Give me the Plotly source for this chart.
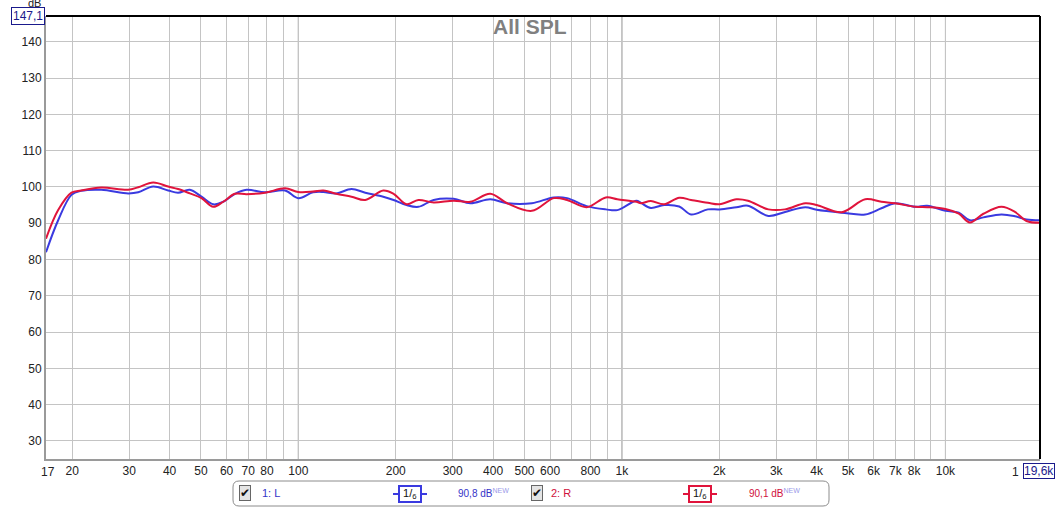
import numpy as np
import plotly.graph_objects as go

# ---------------- data ----------------
freq = [16.6, 18.1, 19.9, 21.3, 24.6, 29.8, 32, 35.6, 39.6, 42.5, 46.2, 50.2, 54.6, 58.6,
        63.7, 69.2, 78.9, 91, 100, 111, 119.5, 131, 146, 161, 183, 197, 216, 235, 262,
        302, 340, 392, 442, 527, 616, 677, 778, 892, 968, 1109, 1145, 1229, 1351, 1504,
        1636, 1844, 2004, 2259, 2453, 2836, 3195, 3690, 4000, 4780, 5650, 6340, 6980,
        8070, 8780, 10000, 11000, 11900, 13100, 14900, 16400, 17800, 19600]
spl_L = [82.0, 90.8, 97.8, 98.9, 99.2, 98.2, 98.5, 100.1, 99.0, 98.4, 99.2, 97.3, 95.2, 95.9,
         98.1, 99.2, 98.5, 99.0, 96.9, 98.5, 98.6, 98.2, 99.4, 98.4, 97.3, 96.4, 95.0, 94.5, 96.4,
         96.7, 95.5, 96.6, 95.5, 95.5, 97.1, 96.9, 94.7, 93.8, 93.6, 96.2, 95.6, 94.2, 95.0, 94.6,
         92.4, 93.8, 93.8, 94.4, 94.8, 92.0, 93.1, 94.4, 93.7, 92.9, 92.4, 94.1, 95.5,
         94.5, 94.8, 93.4, 92.9, 90.8, 91.6, 92.4, 91.9, 91.0, 90.8]
spl_R = [85.7, 93.6, 98.4, 99.0, 99.8, 99.2, 99.9, 101.2, 100.1, 99.4, 98.2, 96.9, 94.5, 95.9,
         98.1, 98.0, 98.4, 99.6, 98.6, 98.7, 99.0, 98.1, 97.3, 96.4, 99.0, 98.1, 95.2, 96.4, 95.7,
         96.2, 95.9, 98.1, 95.5, 93.4, 96.9, 96.4, 94.4, 97.1, 96.6, 95.9, 95.5, 96.1, 95.2, 97.0,
         96.4, 95.6, 95.2, 96.6, 96.2, 93.8, 93.8, 95.5, 95.0, 93.0, 96.6, 95.9, 95.5,
         94.5, 94.4, 93.9, 92.6, 90.2, 92.6, 94.5, 93.1, 90.6, 90.1]

y_ticks = [30, 40, 50, 60, 70, 80, 90, 100, 110, 120, 130, 140]
x_tickvals = [20, 30, 40, 50, 60, 70, 80, 90, 100, 200, 300, 400, 500, 600, 700, 800, 900,
              1000, 2000, 3000, 4000, 5000, 6000, 7000, 8000, 9000, 10000]
x_ticktext = ["20", "30", "40", "50", "60", "70", "80", "", "100", "200", "300", "400", "500",
              "600", "", "800", "", "1k", "2k", "3k", "4k", "5k", "6k", "7k", "8k", "", "10k"]
decades = [100, 1000, 10000]

BLUE = "#3a3ae0"
RED = "#e0143c"
BLUE_T = "#3434c8"
RED_T = "#d0103c"

# ---------------- layout geometry (window pixels) ----------------
W, H = 1063, 508
L, R, T, B = 46, 1040, 16, 459


def px(x):
    return (x - L) / (R - L)


def py(y):
    return (B - y) / (B - T)


fig = go.Figure()
fig.add_trace(go.Scatter(x=freq, y=spl_L, mode="lines", line=dict(color=BLUE, width=2, shape="spline"),
                         name="1: L", showlegend=False, hoverinfo="skip"))
fig.add_trace(go.Scatter(x=freq, y=spl_R, mode="lines", line=dict(color=RED, width=2, shape="spline"),
                         name="2: R", showlegend=False, hoverinfo="skip"))

FONT = "Liberation Sans, Arial, sans-serif"

fig.update_layout(
    width=W, height=H,
    margin=dict(l=L, r=W - R, t=T, b=H - B, pad=0),
    paper_bgcolor="white", plot_bgcolor="white",
    font=dict(family=FONT, size=12, color="#222222"),
    xaxis=dict(type="log", range=[np.log10(16.6), np.log10(19600)],
               tickvals=x_tickvals, ticktext=x_ticktext, showgrid=True, gridcolor="#c4c4c4",
               gridwidth=1, showline=True, linecolor="#9a9a9a", linewidth=2, ticks="",
               zeroline=False, tickfont=dict(size=12, color="#222222")),
    yaxis=dict(range=[25, 147.1], tickvals=y_ticks, showgrid=True, gridcolor="#c4c4c4",
               gridwidth=1, showline=True, linecolor="#9a9a9a", linewidth=2, ticks="",
               zeroline=False, tickfont=dict(size=12, color="#222222")),
)

shapes = []
for d in decades:
    shapes.append(dict(type="line", xref="x", yref="paper", x0=d, x1=d, y0=0, y1=1,
                       line=dict(color="#7a7a7a", width=1), layer="below"))
# top and right black frame
shapes.append(dict(type="line", xref="paper", yref="paper", x0=0, x1=1, y0=1, y1=1,
                   line=dict(color="black", width=2)))
shapes.append(dict(type="line", xref="paper", yref="paper", x0=1, x1=1, y0=0, y1=1,
                   line=dict(color="black", width=2)))

# legend rounded box
x0, x1, yt, yb = px(233), px(829), py(481), py(506)
rx, ry = 6 / (R - L), 6 / (B - T)
path = (f"M {x0+rx},{yt} L {x1-rx},{yt} Q {x1},{yt} {x1},{yt-ry} L {x1},{yb+ry} "
        f"Q {x1},{yb} {x1-rx},{yb} L {x0+rx},{yb} Q {x0},{yb} {x0},{yb+ry} "
        f"L {x0},{yt-ry} Q {x0},{yt} {x0+rx},{yt} Z")
shapes.append(dict(type="path", xref="paper", yref="paper", path=path,
                   line=dict(color="#8c8c8c", width=1), fillcolor="white"))

# filter symbols lines
for (a, b, c) in [(393, 427, BLUE), (683, 717, RED)]:
    shapes.append(dict(type="line", xref="paper", yref="paper", x0=px(a), x1=px(b),
                       y0=py(494), y1=py(494), line=dict(color=c, width=2)))
fig.update_layout(shapes=shapes)

ann = []


def text(x, y, s, color="#222222", size=12, bold=False, xanchor="center", **kw):
    ann.append(dict(xref="paper", yref="paper", x=px(x), y=py(y), text=("<b>%s</b>" % s) if bold else s,
                    showarrow=False, xanchor=xanchor, yanchor="middle",
                    font=dict(family=FONT, size=size, color=color), **kw))


# title
text(530, 26, "All SPL", color="#808080", size=21, bold=True)
# y unit and top box
text(34, 3, "dB", size=11)
text(28, 16, "147,1", color="#1a1a8c", size=12, bordercolor="#1a1a8c", borderwidth=1,
     bgcolor="white", borderpad=1)
# x start/end labels
text(48, 472, "17", size=12)
text(1015, 472, "1", size=12)
text(1039, 471, "19,6k", color="#1a1a8c", size=12, bordercolor="#1a1a8c", borderwidth=1,
     bgcolor="white", borderpad=0)

# legend entries
text(245, 493, "✔", color="#111111", size=12, bordercolor="#666666", borderwidth=1,
     bgcolor="#e4e4e4", borderpad=0)
text(260, 493, "1: L", color=BLUE_T, size=11, xanchor="left")
text(410, 494, "&nbsp;1/<sub>6</sub>&nbsp;", color="#111111", size=11, bordercolor=BLUE, borderwidth=2,
     bgcolor="white", borderpad=0)
text(456, 493, "90,8 dB<sup><span style='color:#9a9ae8'>NEW</span></sup>", color=BLUE_T, size=10,
     xanchor="left")
text(537, 493, "✔", color="#111111", size=12, bordercolor="#666666", borderwidth=1,
     bgcolor="#e4e4e4", borderpad=0)
text(549, 493, "2: R", color=RED_T, size=11, xanchor="left")
text(700, 494, "&nbsp;1/<sub>6</sub>&nbsp;", color="#111111", size=11, bordercolor=RED, borderwidth=2,
     bgcolor="white", borderpad=0)
text(747, 493, "90,1 dB<sup><span style='color:#9a9ae8'>NEW</span></sup>", color=RED_T, size=10,
     xanchor="left")

fig.update_layout(annotations=ann)
fig.write_html("out.html", config={"displayModeBar": False},
               post_script="document.body.style.margin='0px';")
